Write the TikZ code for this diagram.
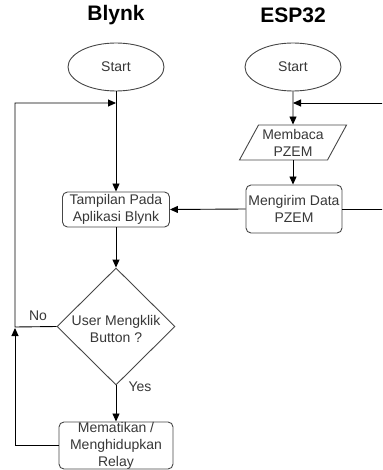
\documentclass[tikz,border=0pt]{standalone}
\usepackage{fontspec}
\setmainfont{Liberation Sans}
\usetikzlibrary{shapes.geometric,arrows.meta}
\definecolor{txt}{RGB}{55,55,55}
\definecolor{brd}{RGB}{70,70,70}
\begin{document}
\begin{tikzpicture}[x=1pt,y=1pt,
  every node/.style={font=\fontsize{14}{17}\selectfont, text=txt, align=center, inner sep=0pt},
  title/.style={font=\fontsize{21}{24}\selectfont\bfseries, text=black},
  term/.style={ellipse, draw=brd, line width=0.9pt, minimum width=96, minimum height=48},
  proc/.style={rectangle, rounded corners=5pt, draw=brd, line width=0.9pt},
  io/.style={trapezium, trapezium left angle=58, trapezium right angle=122, trapezium stretches=true, draw=brd, line width=0.9pt, minimum width=108, minimum height=35},
  dec/.style={diamond, draw=brd, line width=0.9pt, minimum width=118, minimum height=117},
  conn/.style={draw=black, line width=0.9pt},
  arr/.style={conn, -{Triangle[length=8pt,width=7pt]}},
  lbl/.style={font=\fontsize{14}{17}\selectfont, text=txt}
]
\clip (0,0) rectangle (382,-470);
\node[title] (tb) at (116,-15) {Blynk};
\node[title] (te) at (293,-15) {ESP32};
\node[term] (s1) at (116,-67) {Start};
\node[term] (s2) at (293,-67) {Start};
\node[io] (mb) at (293,-142.5) {Membaca\\PZEM};
\node[proc, minimum width=96, minimum height=48] (mk) at (294,-209) {Mengirim Data\\PZEM};
\node[proc, minimum width=107, minimum height=35] (tp) at (116,-209.5) {Tampilan Pada\\Aplikasi Blynk};
\node[dec] (d) at (116,-326.5) {};
\node (dt) at (116,-329) {User Mengklik\\Button ?};
\node[proc, minimum width=114, minimum height=47] (rl) at (116,-445.5) {Mematikan /\\Menghidupkan\\Relay};

\coordinate (jl) at (116,-103);
\coordinate (jr) at (293,-103);
\coordinate (lt) at (15,-103);
\coordinate (lm) at (15,-327);
\coordinate (lb) at (15,-445.5);
\coordinate (rt) at (392,-103);
\coordinate (rb) at (392,-209);

\draw[arr] (s1.south) -- (tp.north);
\draw[arr] (s2.south) -- (mb.north);
\draw[arr] (rt) -- (jr);
\draw[conn] (mk.east) -- (rb) -- (rt);
\draw[arr] (mb.south) -- (mk.north -| mb.south);
\draw[arr] (mk.west) -- (tp.east);
\draw[arr] (tp.south) -- (d.north);
\draw[arr] (d.south) -- (rl.north);
\node[lbl] (yes) at (140,-387) {Yes};
\draw[arr] (d.west) -- (lm) -- (lt) -- (jl);
\node[lbl] (no) at (38,-316) {No};
\draw[arr] (rl.west) -- (lb) -- (15,-328);
\end{tikzpicture}
\end{document}
